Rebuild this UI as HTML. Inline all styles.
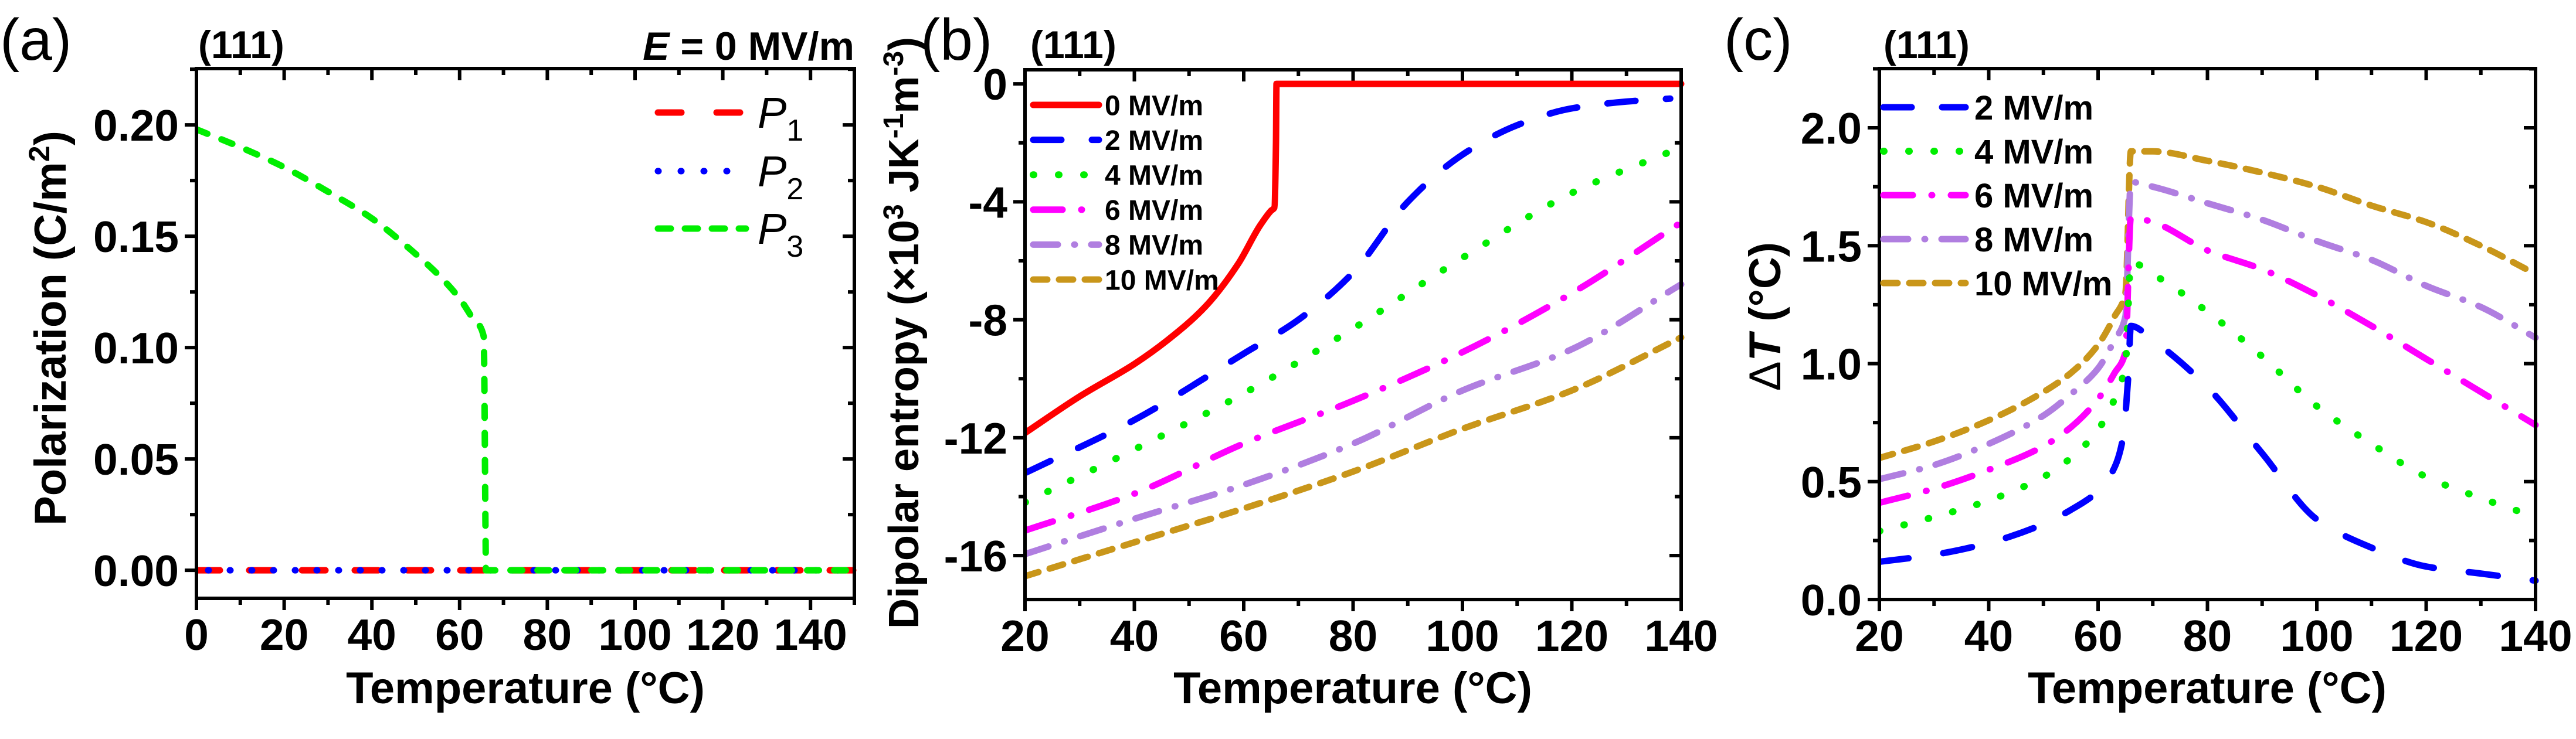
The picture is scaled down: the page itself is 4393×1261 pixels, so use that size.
<!DOCTYPE html>
<html><head><meta charset="utf-8"><style>
html,body{margin:0;padding:0;background:#fff;}
svg{display:block;font-family:"Liberation Sans",Arial,sans-serif;}
</style></head><body>
<svg id="fig" width="4393" height="1261" viewBox="0 0 4393 1261" xmlns="http://www.w3.org/2000/svg">
<rect width="4393" height="1261" fill="#fff"/>
<g id="pa"></g>
<g id="pb"></g>
<g id="pc"></g>
</svg>
<script>
// ---- Panel (a) data ----
const aP3T = [0,10,20,30,40,50,55,60,63,65.5,65.9,66,80,100,120,150];
const aP3V = [0.198,0.19,0.181,0.17,0.158,0.142,0.133,0.122,0.113,0.105,0.02,0,0,0,0,0];
const aP1T = [0,150];
const aP1V = [0,0];
const aP2T = [0,150];
const aP2V = [0,0];
const aXTicks = [0,20,40,60,80,100,120,140];
const aYTicks = [0,0.05,0.10,0.15,0.20];
const aYLabels = ["0.00","0.05","0.10","0.15","0.20"];

// ---- Panel (b) data ----
const bT0 = [20,30,40,46,53,59,63,65,65.6,65.9,66,80,100,120,140];
const bS0 = [-11.84,-10.6,-9.5,-8.7,-7.55,-6.1,-4.8,-4.3,-4.2,-2,0,0,0,0,0];
const bT = [20,40,60,70,80,90,100,110,120,130,138];
const bS2 = [-13.2,-11.4,-9.15,-8.0,-6.4,-4.0,-2.4,-1.4,-0.83,-0.6,-0.5];
const bTs = [20,40,60,80,100,120,138];
const bS4 = [-14.2,-12.4,-10.5,-8.3,-5.9,-3.7,-2.3];
const bTf = [20,40,60,80,100,120,140];
const bS6 = [-15.15,-13.9,-12.2,-10.75,-9.1,-7.1,-4.7];
const bS8 = [-15.95,-14.75,-13.6,-12.2,-10.4,-9.0,-6.8];
const bS10 = [-16.7,-15.55,-14.4,-13.15,-11.7,-10.4,-8.6];
const bXTicks = [20,40,60,80,100,120,140];
const bYTicks = [0,-4,-8,-12,-16];

// ---- Panel (c) data ----
const cT2 = [20,30,40,50,55,60,63,64.5,65.5,66,70,80,90,100,110,120,130,140];
const cD2 = [0.16,0.19,0.24,0.32,0.38,0.46,0.56,0.68,0.94,1.16,1.10,0.9,0.62,0.34,0.22,0.14,0.11,0.08];
const cT = [20,30,40,50,55,60,63,65,66,70,80,90,100,110,120,130,140];
const cD4 = [0.29,0.35,0.42,0.52,0.6,0.72,0.85,1.0,1.43,1.38,1.22,1.03,0.82,0.66,0.52,0.43,0.35];
const cD6 = [0.41,0.47,0.55,0.65,0.73,0.85,0.96,1.05,1.62,1.6,1.48,1.4,1.29,1.16,1.02,0.88,0.74];
const cD8 = [0.51,0.57,0.66,0.78,0.87,0.98,1.1,1.2,1.77,1.75,1.68,1.61,1.52,1.44,1.33,1.24,1.11];
const cD10 = [0.6,0.67,0.76,0.88,0.96,1.08,1.2,1.3,1.9,1.9,1.86,1.81,1.75,1.67,1.6,1.5,1.38];
const cXTicks = [20,40,60,80,100,120,140];
const cYTicks = [0,0.5,1.0,1.5,2.0];
const cYLabels = ["0.0","0.5","1.0","1.5","2.0"];

const NS="http://www.w3.org/2000/svg";
function mk(parent,tag,attrs,text){const e=document.createElementNS(NS,tag);for(const k in attrs)e.setAttribute(k,attrs[k]);if(text!==undefined)e.textContent=text;parent.appendChild(e);return e;}

function axes(g,P){
  const sx=v=>P.x0+(v-P.xmin)/(P.xmax-P.xmin)*(P.x1-P.x0);
  const sy=v=>P.y1-(v-P.ymin)/(P.ymax-P.ymin)*(P.y1-P.y0);
  for(let v=P.xmin;v<=P.xmax+1e-9;v+=P.xminor){
    const major=P.xTicks.some(t=>Math.abs(t-v)<1e-6);
    const L=major?20:11;
    const t1=mk(g,'line',{x1:sx(v),x2:sx(v),y1:P.y1,y2:P.y1+L,stroke:'#000','stroke-width':6});
    
    const t2=mk(g,'line',{x1:sx(v),x2:sx(v),y1:P.y0,y2:P.y0+L,stroke:'#000','stroke-width':6});
    
  }
  const yst=P.yminor;
  let start=Math.ceil((P.ymin-1e-9)/yst)*yst;
  for(let v=start;v<=P.ymax+1e-9;v+=yst){
    const major=P.yTicks.some(t=>Math.abs(t-v)<1e-6);
    const L=major?20:11;
    const t1=mk(g,'line',{x1:P.x0-L,x2:P.x0,y1:sy(v),y2:sy(v),stroke:'#000','stroke-width':6});
    
    const t2=mk(g,'line',{x1:P.x1-L,x2:P.x1,y1:sy(v),y2:sy(v),stroke:'#000','stroke-width':6});
    
  }
  P.xTicks.forEach(v=>{
    const t=mk(g,'text',{x:sx(v),y:P.y1+88,'text-anchor':'middle','font-size':75,'font-weight':'bold'},String(v));
    
  });
  P.yTicks.forEach((v,i)=>{
    const t=mk(g,'text',{x:P.x0-30,y:sy(v)+27,'text-anchor':'end','font-size':75,'font-weight':'bold'},P.yLabels?P.yLabels[i]:String(v));
    
  });
  return {sx,sy};
}
function frame(g,P){
  const r=mk(g,'rect',{x:P.x0,y:P.y0,width:P.x1-P.x0,height:P.y1-P.y0,fill:'none',stroke:'#000','stroke-width':6});
  
}
// monotone cubic path (Fritsch-Carlson) in pixel space
function monoPath(px,py){
  const n=px.length;
  if(n<3){return px.map((x,i)=>(i?'L':'M')+x.toFixed(1)+' '+py[i].toFixed(1)).join(' ');}
  const dx=[],m=[],t=new Array(n);
  for(let i=0;i<n-1;i++){dx.push(px[i+1]-px[i]);m.push((py[i+1]-py[i])/dx[i]);}
  t[0]=m[0];t[n-1]=m[n-2];
  for(let i=1;i<n-1;i++){t[i]=(m[i-1]*m[i]<=0)?0:(dx[i-1]+dx[i])*3/((2*dx[i]+dx[i-1])/m[i-1]+(dx[i]+2*dx[i-1])/m[i]);}
  let d='M'+px[0].toFixed(1)+' '+py[0].toFixed(1);
  for(let i=0;i<n-1;i++){
    const h=dx[i]/3;
    d+=' C'+(px[i]+h).toFixed(1)+' '+(py[i]+t[i]*h).toFixed(1)+' '+(px[i+1]-h).toFixed(1)+' '+(py[i+1]-t[i+1]*h).toFixed(1)+' '+px[i+1].toFixed(1)+' '+py[i+1].toFixed(1);
  }
  return d;
}
function series(g,S,xs,ys,style,name,clipId){
  const d=monoPath(xs.map(S.sx),ys.map(S.sy));
  const p=mk(g,'path',Object.assign({d:d,fill:'none','stroke-linecap':'round','stroke-linejoin':'round','clip-path':'url(#'+clipId+')'},style));
  
  
}
function clip(id,P){
  const defs=mk(document.getElementById('fig'),'defs',{});
  const c=mk(defs,'clipPath',{id:id});
  mk(c,'rect',{x:P.x0,y:P.y0-8,width:P.x1-P.x0+8,height:P.y1-P.y0+8});
}
function legendItem(g,x1,x2,y,style,label,name,fs,tx){
  const l=mk(g,'line',Object.assign({x1:x1,x2:x2,y1:y,y2:y,'stroke-linecap':'round'},style));
  
  const t=mk(g,'text',{x:tx,y:y+fs*0.36,'font-size':fs,'font-weight':'bold'},label);
  
  return t;
}
const st={
  red:{stroke:'#ff0000','stroke-width':11},
  blue:{stroke:'#0000ff','stroke-width':11,'stroke-dasharray':'48 52'},
  green:{stroke:'#00ee00','stroke-width':12,'stroke-dasharray':'1 42'},
  mag:{stroke:'#ff00ff','stroke-width':11,'stroke-dasharray':'50 32 1 32'},
  lav:{stroke:'#b07ee0','stroke-width':11,'stroke-dasharray':'42 28 1 28'},
  gold:{stroke:'#c9961a','stroke-width':11,'stroke-dasharray':'24 20'}
};

// ===== Panel A =====
(function(){
  const g=document.getElementById('pa');
  const P={x0:335,x1:1457,y0:117,y1:1021,xmin:0,xmax:150,ymin:-0.0126,ymax:0.2253,xTicks:aXTicks,xminor:10,yTicks:aYTicks,yminor:0.025,yLabels:aYLabels};
  clip('ca',P);
  const S=axes(g,P);
  series(g,S,aP1T,aP1V,{stroke:'#ff0000','stroke-width':11,'stroke-dasharray':'40 50'},'series-p1','ca');
  series(g,S,aP2T,aP2V,{stroke:'#0000ff','stroke-width':11,'stroke-dasharray':'1 36','stroke-dashoffset':'-20'},'series-p2','ca');
  series(g,S,aP3T,aP3V,{stroke:'#00ee00','stroke-width':11,'stroke-dasharray':'20 26'},'series-p3','ca');
  frame(g,P);
  const lg=mk(g,'g',{});
  [['#ff0000','40 60','P','1',192],['#0000ff','1 38','P','2',292],['#00ee00','22 24','P','3',390]].forEach((r,i)=>{
    const l=mk(lg,'line',{x1:1122,x2:1272,y1:r[4],y2:r[4],stroke:r[0],'stroke-width':11,'stroke-dasharray':r[1],'stroke-linecap':'round'});
    
    const t=mk(lg,'text',{x:1292,y:r[4]+26,'font-size':74,'font-style':'italic'});
    
    mk(t,'tspan',{},r[2]);mk(t,'tspan',{dy:22,'font-size':52,'font-style':'normal'},r[3]);
  });
  const xt=mk(g,'text',{x:896,y:1200,'text-anchor':'middle','font-size':76,'font-weight':'bold'},'Temperature (°C)');
  
  const yt=mk(g,'text',{x:0,y:0,'text-anchor':'middle','font-size':76,'font-weight':'bold',transform:'translate(112,560) rotate(-90)'});
  
  mk(yt,'tspan',{},'Polarization (C/m');mk(yt,'tspan',{dy:-28,'font-size':50},'2');mk(yt,'tspan',{dy:28},')');
  const pl=mk(g,'text',{x:0,y:102,'font-size':100},'(a)');
  const o=mk(g,'text',{x:338,y:99,'font-size':66,'font-weight':'bold'},'(111)');
  const e=mk(g,'text',{x:1457,y:102,'text-anchor':'end','font-size':68,'font-weight':'bold'});
  
  mk(e,'tspan',{'font-style':'italic'},'E');mk(e,'tspan',{},' = 0 MV/m');
})();

// ===== Panel B =====
(function(){
  const g=document.getElementById('pb');
  const P={x0:1748,x1:2867,y0:119,y1:1023,xmin:20,xmax:140,ymin:-17.49,ymax:0.48,xTicks:bXTicks,xminor:10,yTicks:bYTicks,yminor:2};
  clip('cb',P);
  const S=axes(g,P);
  series(g,S,bTf,bS10,st.gold,'series-10mvm','cb');
  series(g,S,bTf,bS8,st.lav,'series-8mvm','cb');
  series(g,S,bTf,bS6,st.mag,'series-6mvm','cb');
  series(g,S,bTs,bS4,st.green,'series-4mvm','cb');
  series(g,S,bT,bS2,st.blue,'series-2mvm','cb');
  series(g,S,bT0,bS0,st.red,'series-0mvm','cb');
  frame(g,P);
  const lg=mk(g,'g',{});
  const rows=[[st.red,'0 MV/m'],[st.blue,'2 MV/m'],[st.green,'4 MV/m'],[st.mag,'6 MV/m'],[st.lav,'8 MV/m'],[st.gold,'10 MV/m']];
  rows.forEach((r,i)=>legendItem(lg,1762,1874,179+i*59.6,r[0],r[1],'legend-entry-'+r[1].split(' ')[0]+'mvm',48,1884));
  const xt=mk(g,'text',{x:2307,y:1200,'text-anchor':'middle','font-size':76,'font-weight':'bold'},'Temperature (°C)');
  
  const yt=mk(g,'text',{x:0,y:0,'text-anchor':'middle','font-size':72,'font-weight':'bold',textLength:1010,lengthAdjust:'spacingAndGlyphs',transform:'translate(1566,568) rotate(-90)'});
  
  mk(yt,'tspan',{},'Dipolar entropy (×10');mk(yt,'tspan',{dy:-26,'font-size':48},'3');mk(yt,'tspan',{dy:26},' JK');
  mk(yt,'tspan',{dy:-26,'font-size':48},'-1');mk(yt,'tspan',{dy:26},'m');mk(yt,'tspan',{dy:-26,'font-size':48},'-3');mk(yt,'tspan',{dy:26},')');
  const pl=mk(g,'text',{x:1570,y:102,'font-size':100},'(b)');
  const o=mk(g,'text',{x:1757,y:99,'font-size':66,'font-weight':'bold'},'(111)');
})();

// ===== Panel C =====
(function(){
  const g=document.getElementById('pc');
  const P={x0:3205,x1:4324,y0:117,y1:1023,xmin:20,xmax:140,ymin:0,ymax:2.251,xTicks:cXTicks,xminor:10,yTicks:cYTicks,yminor:0.25,yLabels:cYLabels};
  clip('cc',P);
  const S=axes(g,P);
  series(g,S,cT,cD10,st.gold,'series-10mvm','cc');
  series(g,S,cT,cD8,st.lav,'series-8mvm','cc');
  series(g,S,cT,cD6,st.mag,'series-6mvm','cc');
  series(g,S,cT,cD4,st.green,'series-4mvm','cc');
  series(g,S,cT2,cD2,Object.assign({},st.blue,{'stroke-dasharray':'50 60'}),'series-2mvm','cc');
  frame(g,P);
  const lg=mk(g,'g',{});
  const rows=[[st.blue,'2 MV/m'],[st.green,'4 MV/m'],[st.mag,'6 MV/m'],[st.lav,'8 MV/m'],[st.gold,'10 MV/m']];
  rows.forEach((r,i)=>legendItem(lg,3212,3352,183+i*75,r[0],r[1],'legend-entry-'+r[1].split(' ')[0]+'mvm',58,3367));
  const xt=mk(g,'text',{x:3764,y:1200,'text-anchor':'middle','font-size':76,'font-weight':'bold'},'Temperature (°C)');
  
  const yt=mk(g,'text',{x:0,y:0,'text-anchor':'middle','font-size':76,'font-weight':'bold',transform:'translate(3036,540) rotate(-90)'});
  
  mk(yt,'tspan',{'font-weight':'normal'},'Δ');mk(yt,'tspan',{'font-style':'italic'},'T');mk(yt,'tspan',{},' (°C)');
  const pl=mk(g,'text',{x:2940,y:102,'font-size':100},'(c)');
  const o=mk(g,'text',{x:3212,y:99,'font-size':66,'font-weight':'bold'},'(111)');
})();
</script>
</body></html>
